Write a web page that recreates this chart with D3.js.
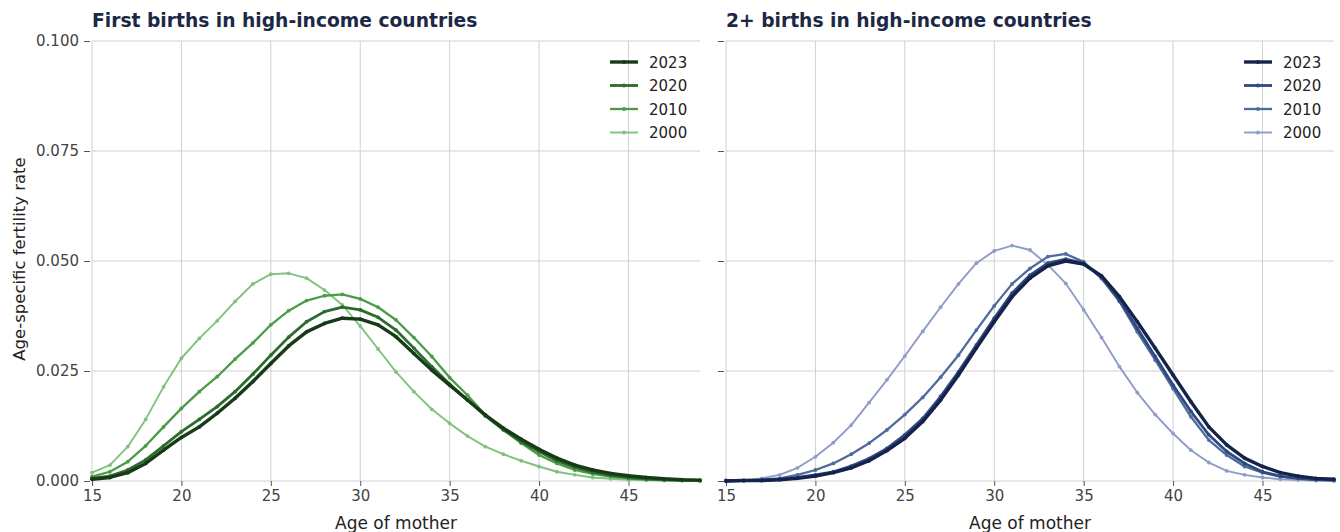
<!DOCTYPE html>
<html><head><meta charset="utf-8">
<script src="https://cdn.jsdelivr.net/npm/d3@7"></script>
<style>
body{margin:0;background:#fff;}
svg{display:block;font-family:"DejaVu Sans",sans-serif;}
</style></head>
<body><svg id="c" width="1340" height="532"></svg>
<script>
const ages = d3.range(15, 50);
const years = ["2023","2020","2010","2000"];
const xTicks = [15,20,25,30,35,40,45];
const yTicks = [0, 0.025, 0.05, 0.075, 0.1];

const first2023 = [0.0004,0.0008,0.0019,0.0040,0.0070,0.0099,0.0123,0.0154,0.0188,0.0226,0.0267,0.0307,0.0339,0.0358,0.0370,0.0368,0.0355,0.0328,0.0290,0.0252,0.0218,0.0184,0.0150,0.0120,0.0095,0.0072,0.0052,0.0036,0.0025,0.0017,0.0012,0.0008,0.0005,0.0003,0.0002];
const first2020 = [0.0006,0.0011,0.0025,0.0048,0.0080,0.0112,0.0140,0.0169,0.0203,0.0243,0.0286,0.0327,0.0362,0.0385,0.0395,0.0389,0.0372,0.0343,0.0302,0.0260,0.0220,0.0184,0.0148,0.0117,0.0089,0.0067,0.0046,0.0031,0.0020,0.0013,0.0008,0.0005,0.0003,0.0002,0.0001];
const first2010 = [0.0010,0.0021,0.0044,0.0080,0.0123,0.0165,0.0203,0.0237,0.0277,0.0314,0.0355,0.0387,0.0410,0.0421,0.0424,0.0414,0.0395,0.0366,0.0326,0.0283,0.0235,0.0195,0.0150,0.0116,0.0086,0.0059,0.0040,0.0025,0.0016,0.0010,0.0006,0.0003,0.0002,0.0001,0.00005];
const first2000 = [0.0019,0.0036,0.0078,0.0140,0.0214,0.0279,0.0324,0.0364,0.0408,0.0448,0.0470,0.0472,0.0461,0.0434,0.0400,0.0352,0.0300,0.0248,0.0203,0.0163,0.0131,0.0102,0.0078,0.0061,0.0046,0.0033,0.0021,0.0014,0.0008,0.0005,0.0003,0.0002,0.0001,0.0001,0.00005];

const second2023 = [0.0000,0.0001,0.0001,0.0003,0.0006,0.0011,0.0019,0.0030,0.0046,0.0069,0.0097,0.0135,0.0184,0.0241,0.0302,0.0362,0.0419,0.0461,0.0489,0.0500,0.0493,0.0466,0.0419,0.0362,0.0302,0.0241,0.0180,0.0123,0.0082,0.0052,0.0033,0.0019,0.0011,0.0006,0.0004];
const second2020 = [0.0000,0.0001,0.0002,0.0004,0.0008,0.0014,0.0021,0.0034,0.0051,0.0074,0.0105,0.0142,0.0192,0.0248,0.0309,0.0370,0.0427,0.0468,0.0495,0.0504,0.0495,0.0464,0.0411,0.0347,0.0283,0.0218,0.0158,0.0105,0.0067,0.0040,0.0021,0.0011,0.0006,0.0003,0.0002];
const second2010 = [0.0001,0.0001,0.0003,0.0006,0.0014,0.0025,0.0040,0.0061,0.0086,0.0116,0.0151,0.0190,0.0236,0.0286,0.0343,0.0398,0.0448,0.0483,0.0510,0.0516,0.0498,0.0460,0.0408,0.0339,0.0275,0.0210,0.0146,0.0093,0.0059,0.0033,0.0019,0.0010,0.0006,0.0003,0.0002];
const second2000 = [0.0002,0.0002,0.0006,0.0014,0.0030,0.0055,0.0087,0.0127,0.0178,0.0230,0.0284,0.0340,0.0395,0.0448,0.0495,0.0523,0.0535,0.0525,0.0491,0.0449,0.0389,0.0326,0.0260,0.0201,0.0151,0.0108,0.0070,0.0042,0.0023,0.0014,0.0008,0.0004,0.0002,0.0001,0.0000];

const panels = [
  {title:"First births in high-income countries", x0:92, x1:700, showY:true,
   series:[first2023,first2020,first2010,first2000],
   colors:["#173a17","#2c6b2c","#4b9b4b","#7fc27f"]},
  {title:"2+ births in high-income countries", x0:726, x1:1334, showY:false,
   series:[second2023,second2020,second2010,second2000],
   colors:["#15224a","#2e4a80","#4d6b9e","#8e9cc6"]}
];
const widths = [3.4, 2.8, 2.3, 1.9];

const svg = d3.select("#c");
const yTop = 41, yBot = 481;
const y = d3.scaleLinear().domain([0, 0.1]).range([yBot, yTop]);

panels.forEach(p => {
  const x = d3.scaleLinear().domain([15, 49]).range([p.x0, p.x1]);
  const g = svg.append("g");
  g.selectAll(".vg").data(xTicks).join("line")
    .attr("x1", d=>x(d)).attr("x2", d=>x(d)).attr("y1", yTop).attr("y2", yBot)
    .attr("stroke", "#d0d0d0").attr("stroke-width", 1);
  g.selectAll(".hg").data(yTicks).join("line")
    .attr("x1", p.x0).attr("x2", p.x1).attr("y1", d=>y(d)).attr("y2", d=>y(d))
    .attr("stroke", "#d0d0d0").attr("stroke-width", 1);
  const xa = g.append("g").attr("transform", `translate(0,${yBot})`)
    .call(d3.axisBottom(x).tickValues(xTicks).tickSize(5).tickPadding(4).tickFormat(d3.format("d")));
  xa.select(".domain").remove();
  xa.selectAll("line").attr("stroke", "#555");
  xa.selectAll("text").attr("fill", "#444").style("font-size", "15px").style("font-family", "DejaVu Sans");
  const ya = g.append("g").attr("transform", `translate(${p.x0-2},0)`)
    .call(d3.axisLeft(y).tickValues(yTicks).tickSize(6).tickPadding(5).tickFormat(p.showY ? d3.format(".3f") : ""));
  ya.select(".domain").remove();
  ya.selectAll("line").attr("stroke", "#555");
  ya.selectAll("text").attr("fill", "#444").style("font-size", "15px").style("font-family", "DejaVu Sans");
  g.append("text").attr("x", (p.x0+p.x1)/2).attr("y", 529).attr("text-anchor", "middle")
    .attr("fill", "#222").style("font-size", "17px").text("Age of mother");
  g.append("text").attr("x", p.x0).attr("y", 27).attr("fill", "#1c2845")
    .style("font-size", "18.7px").style("font-weight", "bold").text(p.title);
  const line = d3.line().x((d,i)=>x(ages[i])).y(d=>y(d)).curve(d3.curveLinear);
  [3,2,1,0].forEach(k => {
    const s = p.series[k];
    g.append("path").datum(s).attr("d", line).attr("fill", "none")
      .attr("stroke", p.colors[k]).attr("stroke-width", widths[k]).attr("stroke-linejoin", "round");
    g.selectAll(null).data(s).join("circle")
      .attr("cx", (d,i)=>x(ages[i])).attr("cy", d=>y(d)).attr("r", 1.9).attr("fill", p.colors[k]);
  });
  const lx = p.x1 - 90;
  years.forEach((yr, k) => {
    const ly = 62 + k*23.5;
    g.append("line").attr("x1", lx).attr("x2", lx+28).attr("y1", ly).attr("y2", ly)
      .attr("stroke", p.colors[k]).attr("stroke-width", widths[k]);
    g.append("circle").attr("cx", lx+14).attr("cy", ly).attr("r", 1.9).attr("fill", p.colors[k]);
    g.append("text").attr("x", lx+39).attr("y", ly+5.5).attr("fill", "#222")
      .style("font-size", "15px").text(yr);
  });
});
svg.append("text").attr("transform", "translate(25,259) rotate(-90)").attr("text-anchor", "middle")
  .attr("fill", "#222").style("font-size", "16.5px").text("Age-specific fertility rate");
</script></body></html>
